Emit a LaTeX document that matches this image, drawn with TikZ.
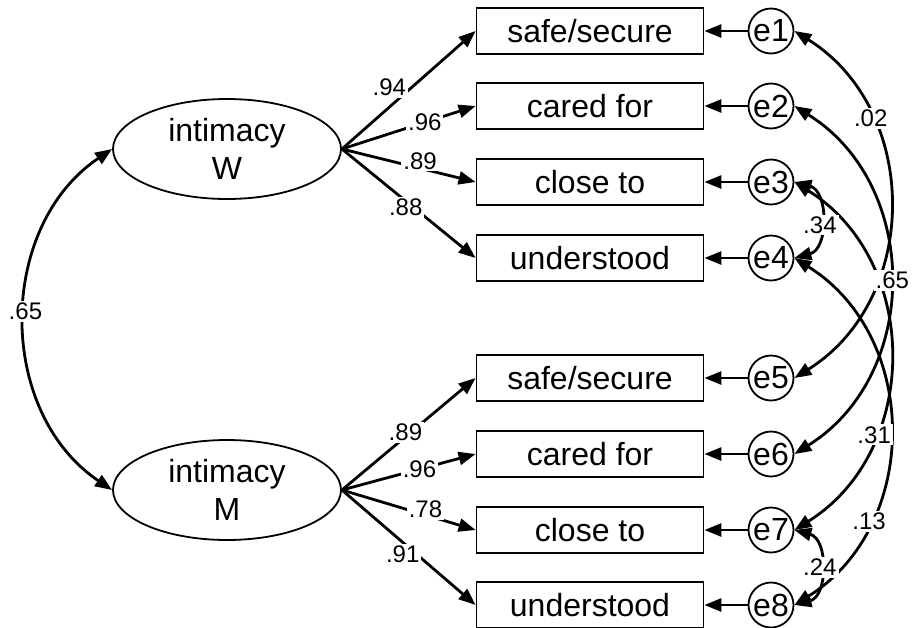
\documentclass[tikz,border=0pt]{standalone}
\usepackage{fontspec}
\setmainfont{Liberation Sans}
\usetikzlibrary{arrows.meta,shapes.geometric}

\begin{document}
\begin{tikzpicture}[x=1pt,y=-1pt,
  latent/.style={ellipse, draw, line width=1.8pt, minimum width=228pt, minimum height=100pt, inner sep=0pt, align=center, font=\fontsize{32}{38}\selectfont},
  observed/.style={rectangle, draw, line width=1.8pt, minimum width=227pt, minimum height=46pt, inner sep=0pt, font=\fontsize{32}{38}\selectfont},
  err/.style={circle, draw, line width=1.8pt, minimum size=45pt, inner sep=0pt, font=\fontsize{32}{38}\selectfont},
  loading/.style={line width=2.8pt, -{Triangle[length=17pt,width=13pt]}},
  cov/.style={line width=2.8pt, {Triangle[length=17pt,width=13pt]}-{Triangle[length=17pt,width=13pt]}},
  coef/.style={fill=white, inner sep=2pt, font=\fontsize{24}{28}\selectfont}]
\useasboundingbox (0,0) rectangle (915,627);

% Latent factors
\node[latent] (W) at (227,149) {intimacy\\W};
\node[latent] (M) at (227,490) {intimacy\\M};

% Indicators, women
\node[observed] (w1) at (590,31) {safe/secure};
\node[observed] (w2) at (590,106) {cared for};
\node[observed] (w3) at (590,182) {close to};
\node[observed] (w4) at (590,258) {understood};

% Indicators, men
\node[observed] (m1) at (590,378) {safe/secure};
\node[observed] (m2) at (590,454) {cared for};
\node[observed] (m3) at (590,530) {close to};
\node[observed] (m4) at (590,605) {understood};

% Error terms
\node[err] (e1) at (771,31) {e1};
\node[err] (e2) at (771,106) {e2};
\node[err] (e3) at (771,182) {e3};
\node[err] (e4) at (771,258) {e4};
\node[err] (e5) at (771,378) {e5};
\node[err] (e6) at (771,454) {e6};
\node[err] (e7) at (771,530) {e7};
\node[err] (e8) at (771,605) {e8};

% Factor loadings
\draw[loading] (W.east) -- node[coef, pos=0.43, xshift=-10pt, yshift=11pt] {.94} (w1.west);
\draw[loading] (W.east) -- node[coef, pos=0.62] {.96} (w2.west);
\draw[loading] (W.east) -- node[coef, pos=0.57, xshift=2pt, yshift=7pt] {.89} (w3.west);
\draw[loading] (W.east) -- node[coef, pos=0.50, xshift=-3pt, yshift=-4pt] {.88} (w4.west);
\draw[loading] (M.east) -- node[coef, pos=0.49, xshift=-2pt, yshift=3pt] {.89} (m1.west);
\draw[loading] (M.east) -- node[coef, pos=0.58] {.96} (m2.west);
\draw[loading] (M.east) -- node[coef, pos=0.61, xshift=2pt, yshift=5pt] {.78} (m3.west);
\draw[loading] (M.east) -- node[coef, pos=0.50, xshift=-6pt, yshift=-7pt] {.91} (m4.west);

% Errors to indicators
\draw[loading] (e1) -- (w1);
\draw[loading] (e2) -- (w2);
\draw[loading] (e3) -- (w3);
\draw[loading] (e4) -- (w4);
\draw[loading] (e5) -- (m1);
\draw[loading] (e6) -- (m2);
\draw[loading] (e7) -- (m3);
\draw[loading] (e8) -- (m4);

% Factor covariance
\draw[cov] (W.west) to[bend right=56, looseness=1.05] node[coef, pos=0.48] {.65} (M.west);

% Error covariances
\draw[cov] (e4.east) to[bend left=58, looseness=1.1] node[coef, pos=0.73] {.13} (e8.east);
\draw[cov] (e3.east) to[bend left=58, looseness=1.1] node[coef, pos=0.70] {.31} (e7.east);
\draw[cov] (e1.east) to[bend left=58, looseness=1.1] node[coef, pos=0.28] {.02} (e5.east);
\draw[cov] (e2.east) to[bend left=58, looseness=1.1] node[coef, pos=0.5, xshift=3pt] {.65} (e6.east);
\draw[cov] (e3.east) to[bend left=75, looseness=1.2] node[coef, pos=0.55] {.34} (e4.east);
\draw[cov] (e7.east) to[bend left=75, looseness=1.2] node[coef, pos=0.5] {.24} (e8.east);
\end{tikzpicture}
\end{document}
